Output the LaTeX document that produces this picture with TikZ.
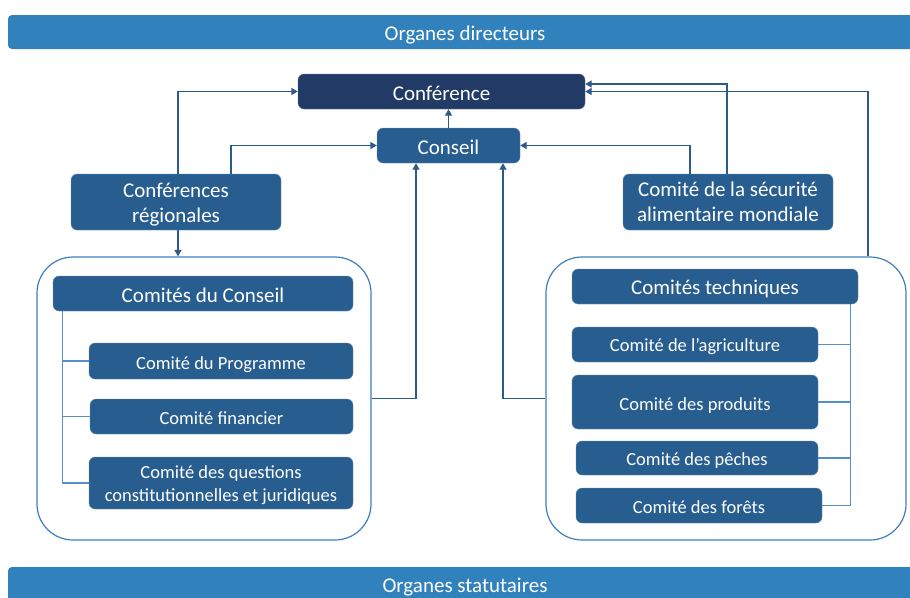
\documentclass[tikz,border=0pt]{standalone}
\usepackage{fontspec}
\setmainfont{Carlito}
\usetikzlibrary{arrows.meta}
\definecolor{barblue}{HTML}{3181BD}
\definecolor{confnavy}{HTML}{213A66}
\definecolor{boxblue}{HTML}{285E8F}
\definecolor{contblue}{HTML}{3D7EC0}
\definecolor{linkblue}{HTML}{2E5A88}
\definecolor{treeblue}{HTML}{5590CC}
\newcommand\sdn[2][2.5pt]{\raisebox{-#1}[\height][\depth]{#2}}
\newcommand\twol[2]{\begin{tabular}{@{}c@{}}#1\\#2\end{tabular}}
\tikzset{
  bigbox/.style={fill=boxblue, draw=boxblue!70!white, line width=0.4pt, rounded corners=6pt, text=white, font=\fontsize{21}{25}\selectfont, align=center, inner sep=0pt},
  smallbox/.style={fill=boxblue, draw=boxblue!70!white, line width=0.4pt, rounded corners=6pt, text=white, font=\fontsize{18.5}{23}\selectfont, align=center, inner sep=0pt},
  container/.style={draw=contblue, line width=1.2pt, rounded corners=36pt, inner sep=0pt},
  bar/.style={fill=barblue, rounded corners=4pt},
  bartext/.style={text=white, font=\fontsize{21}{25}\selectfont, inner sep=0pt},
  arr/.style={draw=linkblue, line width=1.4pt, -{Triangle[length=6.5pt,width=7pt]}},
  tree/.style={draw=treeblue, line width=1.2pt},
}
\begin{document}
\begin{tikzpicture}[x=1pt,y=-1pt]
\clip (0,0) rectangle (910,597);
\fill[white] (0,0) rectangle (910,597);
% bars
\fill[bar] (8,15) rectangle (925,49);
\node[bartext] (top) at (465,33) {\sdn[2pt]{Organes directeurs}};
\fill[bar] (8,567) rectangle (925,610);
\node[bartext] (bot) at (465,585) {\sdn[2pt]{Organes statutaires}};
% containers
\node[container, minimum width=334pt, minimum height=283pt] (leftc) at (204,398.5) {};
\node[container, minimum width=360pt, minimum height=283pt] (rightc) at (726,398.5) {};
% main boxes
\node[bigbox, fill=confnavy, draw=confnavy!70!white, minimum width=287pt, minimum height=35pt] (conf) at (441.5,91.5) {\sdn[1.5pt]{Conférence}};
\node[bigbox, minimum width=143pt, minimum height=35pt] (conseil) at (448.5,145.5) {\sdn[1.5pt]{Conseil}};
\node[bigbox, minimum width=210pt, minimum height=56pt] (cr) at (176,202) {\sdn[3pt]{\twol{Conférences}{régionales}}};
\node[bigbox, minimum width=210pt, minimum height=56pt] (csam) at (728,202) {\sdn[2pt]{\twol{Comité de la sécurité}{alimentaire mondiale}}};
% left group
\node[bigbox, minimum width=300pt, minimum height=35pt] (cdc) at (203,293.5) {\sdn[1.5pt]{Comités du Conseil}};
\node[smallbox, minimum width=264pt, minimum height=36pt] (prog) at (221,361) {\sdn[3.5pt]{Comité du Programme}};
\node[smallbox, minimum width=263pt, minimum height=35pt] (fin) at (221.5,416.5) {\sdn[2pt]{Comité financier}};
\node[smallbox, minimum width=264pt, minimum height=52pt] (quest) at (221,483) {\sdn[2pt]{\twol{Comité des questions}{constitutionnelles et juridiques}}};
% right group
\node[bigbox, minimum width=286pt, minimum height=35pt] (ct) at (715,286.5) {\sdn[2pt]{Comités techniques}};
\node[smallbox, minimum width=246pt, minimum height=35pt] (agri) at (695,344.5) {\sdn[2pt]{Comité de l’agriculture}};
\node[smallbox, minimum width=246pt, minimum height=54pt] (prod) at (695,402) {\sdn[3.5pt]{Comité des produits}};
\node[smallbox, minimum width=242pt, minimum height=34pt] (peche) at (697,458) {\sdn[3pt]{Comité des pêches}};
\node[smallbox, minimum width=246pt, minimum height=35pt] (foret) at (699,505.5) {\sdn[2pt]{Comité des forêts}};
% trees
\coordinate (lt) at ([xshift=10pt]cdc.south west);
\draw[tree] (lt) |- (quest.west);
\draw[tree] (lt |- prog.west) -- (prog.west);
\draw[tree] (lt |- fin.west) -- (fin.west);
\coordinate (rt) at ([xshift=-8pt]ct.south east);
\draw[tree] (rt) |- (foret.east);
\draw[tree] (rt |- agri.east) -- (agri.east);
\draw[tree] (rt |- prod.east) -- (prod.east);
\draw[tree] (rt |- peche.east) -- (peche.east);
% connectors
\draw[arr] ([xshift=2pt]cr.north) |- (conf.west);
\draw[arr] ([xshift=55pt]cr.north) |- (conseil.west);
\draw[arr] ([xshift=2pt]cr.south) -- ([xshift=2pt]cr.south |- leftc.north);
\draw[arr] (conseil.north) -- (conseil.north |- conf.south);
\draw[arr] (leftc.east) -| ([xshift=-32.5pt]conseil.south);
\draw[arr] (rightc.west) -| ([xshift=54.5pt]conseil.south);
\draw[arr] ([xshift=-38pt]csam.north) |- (conseil.east);
\draw[arr] ([xshift=-1pt]csam.north) |- ([yshift=7.5pt]conf.east);
\draw[arr] ([xshift=142pt]rightc.north) |- (conf.east);
\end{tikzpicture}
\end{document}
